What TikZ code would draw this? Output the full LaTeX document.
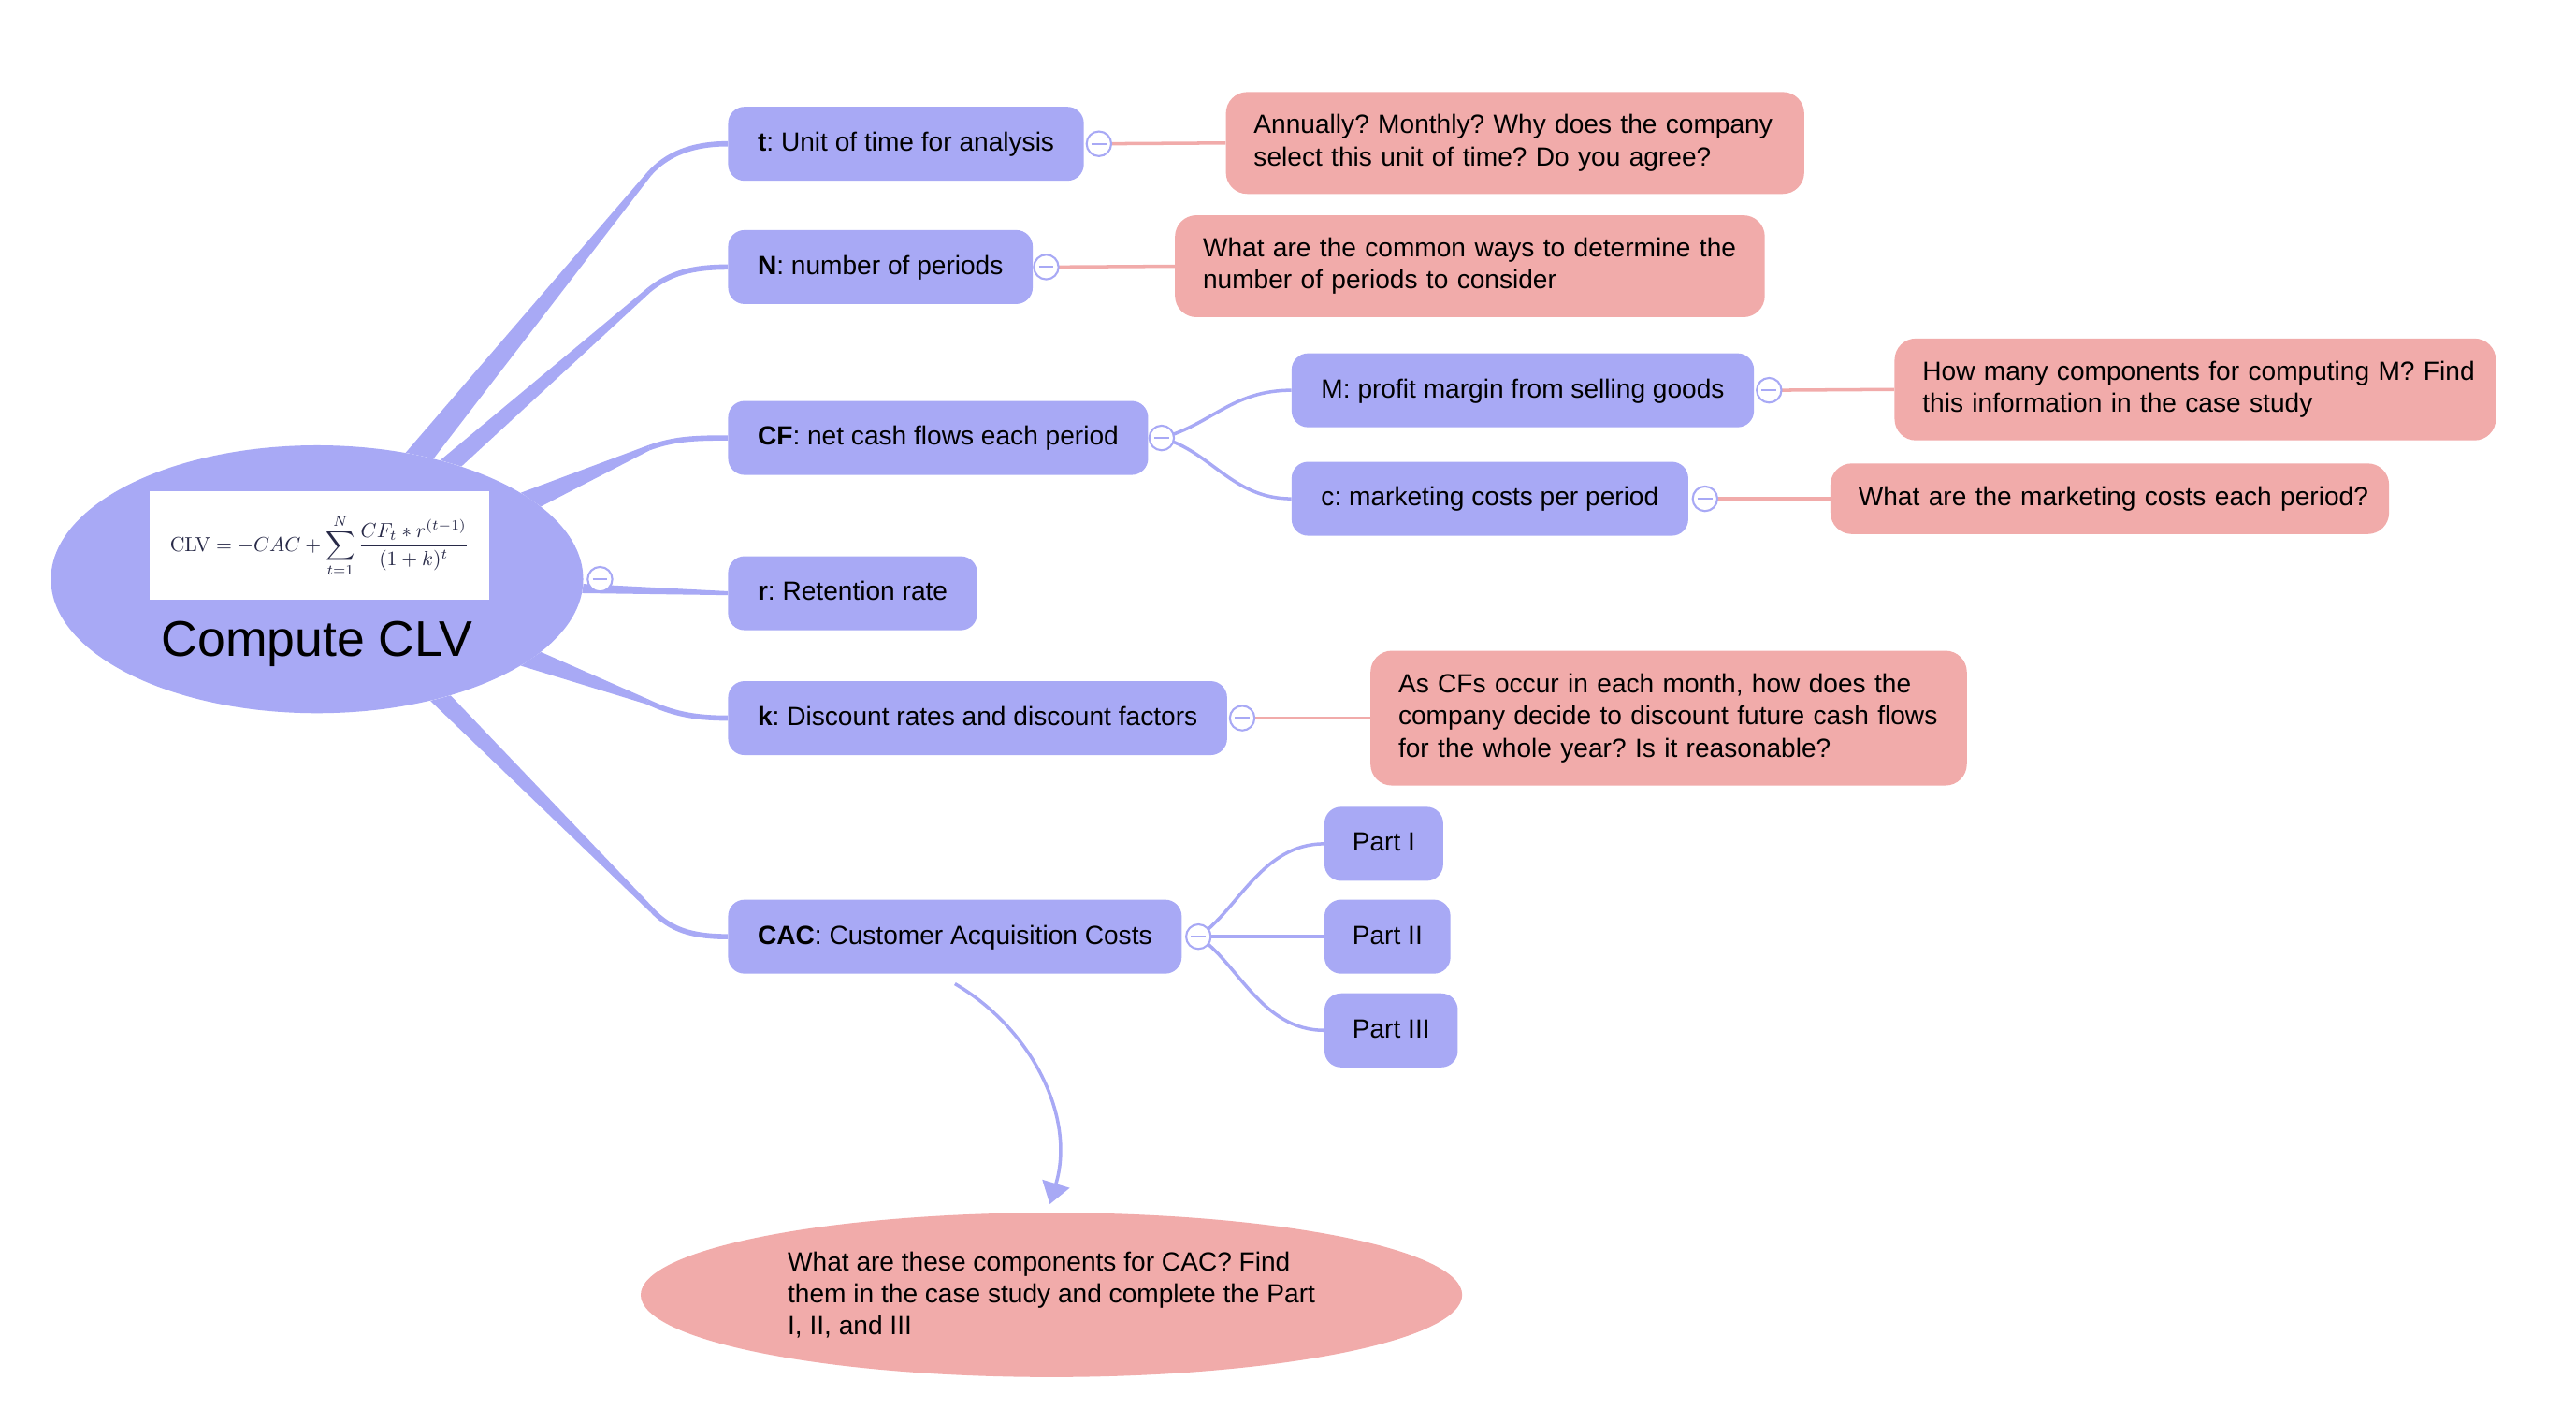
\documentclass[tikz,border=0pt]{standalone}
\usepackage[no-math]{fontspec}
\usepackage{graphicx}
\usetikzlibrary{calc,arrows.meta,shapes.geometric}
\newfontfamily\uisans{Liberation Sans}
\definecolor{lav}{RGB}{168,169,245}
\definecolor{rosy}{RGB}{241,171,170}
\definecolor{ink}{RGB}{40,42,72}
\frenchspacing

% tapered main branch: #1,#2 border angles on the root, #3 bend point, #4 target node
\newcommand\limb[4]{%
  \fill[lav] (root.#1) -- ($(#3)!1.6pt!-90:(root.#1)$) -- ($(#3)!1.6pt!90:(root.#1)$) -- (root.#2) -- cycle;
  \draw[lav,line width=3.2pt] (#3) .. controls ($(#3)!-16pt!(root.#1)$) and ($(#4.west)+(-22,0)$) .. (#4.west);
}
% one unbreakable line of a note
\newcommand\qline[1]{\mbox{#1}}

\begin{document}
\begin{tikzpicture}[x=1pt,y=-1pt,
  txt/.style={font=\uisans\fontsize{16}{19.5}\selectfont},
  topic/.style={txt, fill=lav, rounded corners=10pt, minimum height=45pt, inner xsep=18pt, inner ysep=0pt,
    text height=12.5pt, text depth=3.5pt, anchor=west},
  note/.style={txt, fill=rosy, rounded corners=13pt, inner xsep=17pt, inner ysep=0pt, align=left, anchor=west},
  toggle/.style={circle, draw=lav, fill=white, line width=1.2pt, minimum size=15pt, inner sep=0pt,
    path picture={\draw[lav,line width=1.2pt] ($(path picture bounding box.center)+(-4.5,0)$) -- ($(path picture bounding box.center)+(4.5,0)$);}},
  twig/.style={draw=lav, line width=2pt},
  link/.style={draw=rosy, line width=2pt},
]
\useasboundingbox (0,0) rectangle (1568,857);

% central topic
\node[ellipse, fill=lav, minimum width=324pt, minimum height=163pt, inner sep=0pt] (root) at (193,352.5) {};
\node[fill=white, minimum width=207pt, minimum height=66pt, inner sep=0pt] (formula) at (194.5,332)
  {\resizebox{182pt}{!}{$\color{ink}\displaystyle \mathrm{CLV}=-CAC+\sum_{t=1}^{N}\frac{CF_t*r^{(t-1)}}{(1+k)^t}$}};
\node[font=\uisans\fontsize{30.5}{36}\selectfont, anchor=base, inner sep=0pt] (title) at (193,399.5) {Compute CLV};

% first-level topics
\node[topic] (t) at (443,87.5) {\textbf{t}: Unit of time for analysis};
\node[topic] (n) at (443,162.5) {\textbf{N}: number of periods};
\node[topic] (cf) at (443,266.5) {\textbf{CF}: net cash flows each period};
\node[topic] (r) at (443,361) {\textbf{r}: Retention rate};
\node[topic] (k) at (443,437) {\textbf{k}: Discount rates and discount factors};
\node[topic] (cac) at (443,570) {\textbf{CAC}: Customer Acquisition Costs};

% second-level topics
\node[topic] (m) at (786,237.5) {M: profit margin from selling goods};
\node[topic] (c) at (786,303.5) {c: marketing costs per period};
\node[topic, inner xsep=17pt] (p1) at (806,513.5) {Part I};
\node[topic, inner xsep=17pt] (p2) at (806,570) {Part II};
\node[topic, inner xsep=17pt] (p3) at (806,627) {Part III};

% questions
\node[note, text width=318pt, minimum height=62pt] (tq) at (746,87)
  {\qline{Annually? Monthly? Why does the company}\\\qline{select this unit of time? Do you agree?}};
\node[note, text width=325pt, minimum height=62pt] (nq) at (715,162)
  {\qline{What are the common ways to determine the}\\\qline{number of periods to consider}};
\node[note, text width=332pt, minimum height=62pt] (mq) at (1153,237)
  {\qline{How many components for computing M? Find}\\\qline{this information in the case study}};
\node[note, text width=306pt, minimum height=43pt] (cq) at (1114,303.5)
  {\qline{What are the marketing costs each period?}};
\node[note, text width=329pt, minimum height=82pt] (kq) at (834,437)
  {\qline{As CFs occur in each month, how does the}\\\qline{company decide to discount future cash flows}\\\qline{for the whole year? Is it reasonable?}};
\node[txt, ellipse, fill=rosy, minimum width=500pt, minimum height=100pt, inner sep=0pt, align=left] (ask) at (640,788)
  {What are these components for CAC? Find\\them in the case study and complete the Part\\I, II, and III};

% tapered branches from the central topic
\coordinate (bt) at (395,106);
\coordinate (bn) at (395,176.5);
\coordinate (bcf) at (395,272.5);
\coordinate (bk) at (394,427);
\coordinate (bcac) at (397,554);
\limb{55}{46}{bt}{t}
\limb{44}{38}{bn}{n}
\limb{23}{18}{bcf}{cf}
\limb{-18}{-23}{bk}{k}
\limb{-41}{-47}{bcac}{cac}
\fill[lav] (root.-1) -- ($(r.west)+(0,-1.2)$) -- ($(r.west)+(0,1.2)$) -- (root.-3) -- cycle;

% collapse button positions
\coordinate (tT) at ($(t.east)+(9,0)$);
\coordinate (nT) at ($(n.east)+(8,0)$);
\coordinate (cfT) at ($(cf.east)+(8,0)$);
\coordinate (mT) at ($(m.east)+(9,0)$);
\coordinate (cT) at ($(c.east)+(10,0)$);
\coordinate (kT) at ($(k.east)+(9,0)$);
\coordinate (cacT) at ($(cac.east)+(10,0)$);
\coordinate (rootT) at ($(root.east)+(10,0)$);

% sub-branches
\draw[twig] (cfT) .. controls ($(cfT)+(30,-8)$) and ($(m.west)+(-36,0)$) .. (m.west);
\draw[twig] (cfT) .. controls ($(cfT)+(30,8)$) and ($(c.west)+(-36,0)$) .. (c.west);
\draw[twig] (cacT) .. controls ($(cacT)+(24,-16)$) and ($(p1.west)+(-38,0)$) .. (p1.west);
\draw[twig] (cacT) -- (p2.west);
\draw[twig] (cacT) .. controls ($(cacT)+(24,16)$) and ($(p3.west)+(-38,0)$) .. (p3.west);

% links to the questions
\draw[link] (tT) -- (tq.west);
\draw[link] (nT) -- (nq.west);
\draw[link] (mT) -- (mq.west);
\draw[link] (cT) -- (cq.west);
\draw[link] (kT) -- (kq.west);

% collapse buttons
\foreach \p in {tT,nT,cfT,mT,cT,kT,cacT,rootT}
  \node[toggle] (\p-knob) at (\p) {};

% relationship arrow
\draw[lav, line width=2pt, -{Triangle[length=13pt,width=17pt]}]
  ($(cac.south)+(0,6)$) .. controls (628,626) and (655,680) .. ($(ask.north)+(-1,-5)$);
\end{tikzpicture}
\end{document}
